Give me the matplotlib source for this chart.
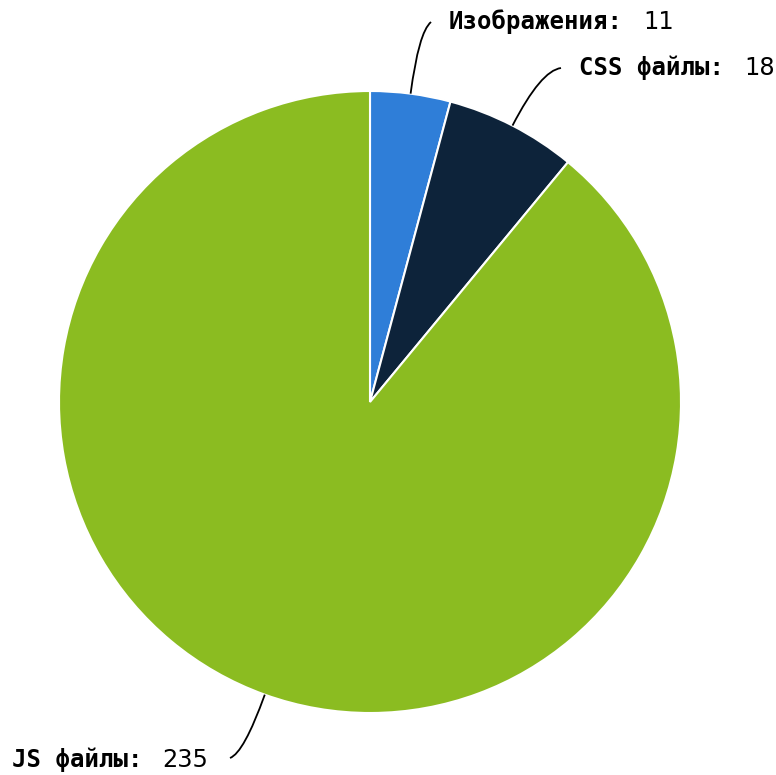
import numpy as np
import matplotlib.pyplot as plt
from matplotlib.path import Path
from matplotlib.patches import PathPatch

names = ['Изображения', 'CSS файлы', 'JS файлы']
values = [11, 18, 235]
colors = ['#2f7ed8', '#0d233a', '#8bbc21']

W, H = 776, 775
cx, cy, r = 370, H - 402, 311
fs = 17.3
gap = 20  # px between "name:" and value

# label anchor (x, y in pixels from top) and side
label_pos = [(449, 22, 'left'), (579, 68, 'left'), (208, 760, 'right')]

fig = plt.figure(figsize=(W / 100, H / 100), dpi=100)
ax = fig.add_axes([0, 0, 1, 1])

wedges, _ = ax.pie(values, colors=colors, startangle=90, counterclock=False,
                   center=(cx, cy), radius=r,
                   wedgeprops=dict(edgecolor='white', linewidth=1.5))
ax.set_xlim(0, W)
ax.set_ylim(0, H)
ax.set_aspect('equal')
ax.axis('off')

fig.canvas.draw()
renderer = fig.canvas.get_renderer()

for w, name, val, (lx, ly, side) in zip(wedges, names, values, label_pos):
    mid = np.deg2rad((w.theta1 + w.theta2) / 2)
    p0 = (cx + r * np.cos(mid), cy + r * np.sin(mid))
    p1 = (cx + (r + 62) * np.cos(mid), cy + (r + 62) * np.sin(mid))
    ty = H - ly
    if side == 'left':
        end = (lx - 18, ty)
    else:
        end = (lx + 22, ty + 2)
    path = Path([p0, p1, end], [Path.MOVETO, Path.CURVE3, Path.CURVE3])
    ax.add_patch(PathPatch(path, fill=False, edgecolor='black', linewidth=1.3))

    if side == 'left':
        t1 = ax.text(lx, ty, name + ':', fontsize=fs, fontweight='bold',
                     family='DejaVu Sans Mono', ha='left', va='center')
        bb = t1.get_window_extent(renderer)
        ax.text(bb.x1 + gap, ty, str(val), fontsize=fs, family='DejaVu Sans',
                ha='left', va='center')
    else:
        t2 = ax.text(lx, ty, str(val), fontsize=fs, family='DejaVu Sans',
                     ha='right', va='center')
        bb = t2.get_window_extent(renderer)
        ax.text(bb.x0 - gap, ty, name + ':', fontsize=fs, fontweight='bold',
                family='DejaVu Sans Mono', ha='right', va='center')

fig.savefig('out.png', dpi=100)
